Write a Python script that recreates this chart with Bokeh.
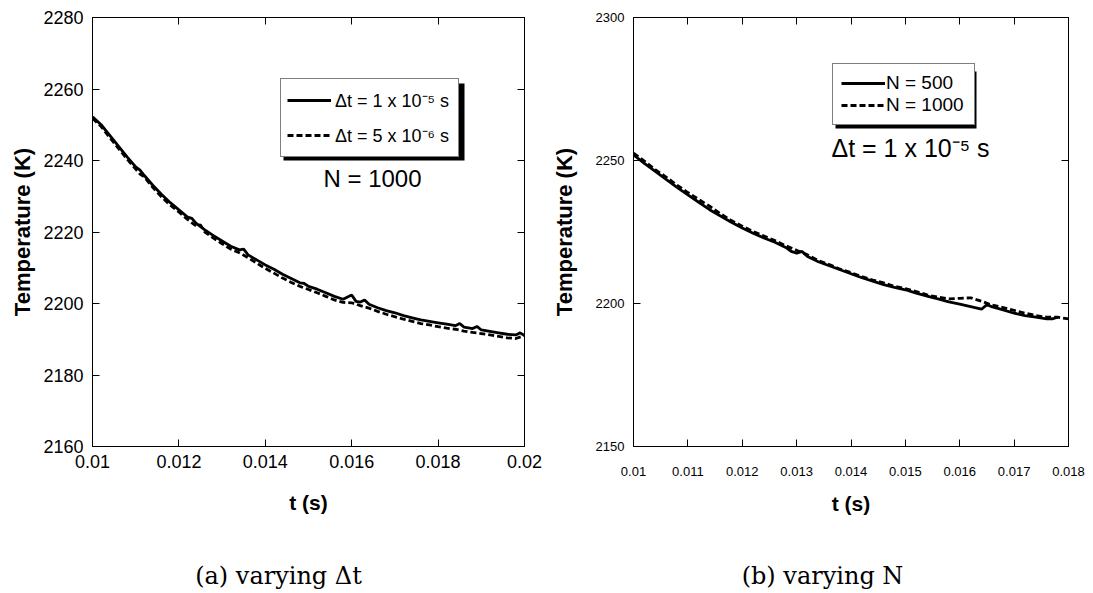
from bokeh.plotting import figure
from bokeh.models import (Range1d, LinearAxis, FixedTicker, Legend, LegendItem,
                          Label, BoxAnnotation)
from bokeh.layouts import row, column
from bokeh.embed import file_html
from bokeh.resources import INLINE

# ---------------- data: panel (a) varying dt, N = 1000 ----------------
t_a_dt1 = [0.0100, 0.0102, 0.0104, 0.0106, 0.0108, 0.0110, 0.0111, 0.0112, 0.0114, 0.0116,
           0.0118, 0.0120, 0.0122, 0.0123, 0.0124, 0.0126, 0.0128, 0.0130, 0.0132, 0.0134,
           0.0135, 0.0136, 0.0138, 0.0140, 0.0142, 0.0144, 0.0146, 0.0148, 0.0149, 0.0150,
           0.0152, 0.0154, 0.0156, 0.0158, 0.0160, 0.0161, 0.0162, 0.0163, 0.0164, 0.0166,
           0.0168, 0.0170, 0.0172, 0.0174, 0.0176, 0.0178, 0.0180, 0.0182, 0.0184, 0.0185,
           0.0186, 0.0188, 0.0189, 0.0190, 0.0192, 0.0194, 0.0196, 0.0198, 0.0199, 0.0200]
T_a_dt1 = [2252.2, 2250.0, 2247.0, 2244.0, 2241.0, 2238.2, 2237.3, 2235.8, 2233.0, 2230.5,
           2228.2, 2226.2, 2224.2, 2223.8, 2222.4, 2220.6, 2219.0, 2217.5, 2216.0, 2215.0,
           2215.2, 2213.6, 2212.2, 2210.8, 2209.6, 2208.2, 2207.0, 2205.8, 2205.6, 2204.8,
           2204.0, 2203.0, 2202.0, 2201.2, 2202.4, 2200.6, 2200.4, 2201.0, 2199.8, 2198.8,
           2198.0, 2197.4, 2196.6, 2196.0, 2195.4, 2195.0, 2194.6, 2194.2, 2193.8, 2194.4,
           2193.4, 2193.0, 2193.6, 2192.6, 2192.2, 2191.8, 2191.4, 2191.2, 2191.8, 2191.0]

t_a_dt2 = [0.0100, 0.0102, 0.0104, 0.0106, 0.0108, 0.0110, 0.0111, 0.0112, 0.0114, 0.0116,
           0.0118, 0.0120, 0.0122, 0.0124, 0.0125, 0.0126, 0.0128, 0.0130, 0.0132, 0.0134,
           0.0136, 0.0138, 0.0140, 0.0142, 0.0144, 0.0146, 0.0148, 0.0150, 0.0152, 0.0154,
           0.0156, 0.0158, 0.0160, 0.0162, 0.0164, 0.0166, 0.0168, 0.0170, 0.0172, 0.0174,
           0.0176, 0.0178, 0.0180, 0.0182, 0.0184, 0.0186, 0.0188, 0.0190, 0.0192, 0.0194,
           0.0196, 0.0198, 0.0200]
T_a_dt2 = [2251.8, 2249.5, 2246.4, 2243.4, 2240.4, 2237.6, 2236.2, 2235.4, 2232.4, 2229.8,
           2227.5, 2225.6, 2223.5, 2221.7, 2222.0, 2220.0, 2218.3, 2216.7, 2215.2, 2214.2,
           2212.8, 2211.3, 2209.8, 2208.5, 2207.1, 2205.9, 2204.8, 2203.9, 2203.0, 2202.0,
           2201.0, 2200.3, 2200.2, 2199.4, 2198.7, 2197.8, 2197.0, 2196.3, 2195.6, 2195.0,
           2194.4, 2194.0, 2193.5, 2193.1, 2192.8, 2192.3, 2191.9, 2191.6, 2191.2, 2190.8,
           2190.4, 2190.2, 2191.0]

# ---------------- data: panel (b) varying N, dt = 1e-5 s ----------------
t_b_n500 = [0.0100, 0.0102, 0.0104, 0.0106, 0.0108, 0.0110, 0.0112, 0.0114, 0.0116, 0.0118,
            0.0120, 0.0122, 0.0124, 0.0126, 0.0128, 0.0129, 0.0130, 0.0131, 0.0132, 0.0134,
            0.0136, 0.0138, 0.0140, 0.0142, 0.0144, 0.0146, 0.0148, 0.0150, 0.0152, 0.0154,
            0.0156, 0.0158, 0.0160, 0.0162, 0.0164, 0.0165, 0.0166, 0.0168, 0.0170, 0.0172,
            0.0174, 0.0176, 0.0177, 0.0178]
T_b_n500 = [2252.0, 2249.0, 2246.2, 2243.4, 2240.6, 2238.0, 2235.4, 2232.8, 2230.6, 2228.4,
            2226.4, 2224.6, 2222.9, 2221.4, 2219.6, 2218.2, 2217.6, 2218.2, 2216.4, 2214.6,
            2213.2, 2211.8, 2210.4, 2209.0, 2207.8, 2206.6, 2205.6, 2204.8, 2203.6, 2202.6,
            2201.6, 2200.6, 2199.8, 2198.9, 2198.0, 2199.6, 2198.8, 2197.8, 2196.6, 2195.8,
            2195.2, 2194.6, 2194.6, 2195.2]

t_b_n1000 = [0.0100, 0.0102, 0.0104, 0.0106, 0.0108, 0.0110, 0.0112, 0.0114, 0.0116, 0.0118,
             0.0120, 0.0122, 0.0124, 0.0126, 0.0128, 0.0130, 0.0132, 0.0134, 0.0136, 0.0138,
             0.0140, 0.0142, 0.0144, 0.0146, 0.0148, 0.0150, 0.0152, 0.0154, 0.0156, 0.0158,
             0.0160, 0.0162, 0.0164, 0.0166, 0.0168, 0.0170, 0.0172, 0.0174, 0.0176, 0.0178,
             0.0180]
T_b_n1000 = [2252.6, 2249.8, 2246.8, 2244.2, 2241.4, 2238.8, 2236.4, 2234.0, 2231.4, 2229.0,
             2227.0, 2225.2, 2223.6, 2222.0, 2220.2, 2218.6, 2217.0, 2215.0, 2213.6, 2212.0,
             2210.8, 2209.4, 2208.2, 2207.2, 2206.0, 2205.2, 2204.2, 2203.0, 2202.2, 2201.6,
             2201.8, 2202.0, 2200.8, 2199.4, 2198.6, 2197.6, 2196.6, 2195.8, 2195.2, 2195.2,
             2194.6]

# ---------------- ticks & labels ----------------
xticks_a = [0.010, 0.012, 0.014, 0.016, 0.018, 0.020]
xlabels_a = ["0.01", "0.012", "0.014", "0.016", "0.018", "0.02"]
yticks_a = [2160, 2180, 2200, 2220, 2240, 2260, 2280]

xticks_b = [0.010, 0.011, 0.012, 0.013, 0.014, 0.015, 0.016, 0.017, 0.018]
xlabels_b = ["0.01", "0.011", "0.012", "0.013", "0.014", "0.015", "0.016", "0.017", "0.018"]
yticks_b = [2150, 2200, 2250, 2300]

legend_a = ["\u0394t = 1 x 10\u207b\u2075 s", "\u0394t = 5 x 10\u207b\u2076 s"]
legend_b = ["N = 500", "N = 1000"]
note_a = "N = 1000"
note_b = "\u0394t = 1 x 10\u207b\u2075 s"
caption_a = "(a) varying \u0394t"
caption_b = "(b) varying N"

SANS = "Liberation Sans"
SERIF = "DejaVu Serif"
MAIN_H = 540
CAP_H = 53


def panel(width, bl, br, bt, bb, xr, yr, xticks, xlabels, yticks, tick_size,
          x_standoff, xlab_standoff, ylab_standoff):
    p = figure(width=width, height=MAIN_H, output_backend="svg", toolbar_location=None,
               x_range=Range1d(*xr), y_range=Range1d(*yr),
               min_border_left=bl, min_border_right=br, min_border_top=bt,
               min_border_bottom=bb)
    p.xgrid.visible = False
    p.ygrid.visible = False
    p.outline_line_color = "black"
    p.outline_line_width = 1
    p.background_fill_color = "white"
    p.border_fill_color = "white"
    p.add_layout(LinearAxis(), "above")
    p.add_layout(LinearAxis(), "right")
    for ax in p.xaxis:
        ax.ticker = FixedTicker(ticks=xticks)
        ax.major_label_overrides = {t: l for t, l in zip(xticks, xlabels)}
    for ax in p.yaxis:
        ax.ticker = FixedTicker(ticks=yticks)
    for ax in list(p.xaxis) + list(p.yaxis):
        ax.major_tick_in = 7
        ax.major_tick_out = 0
        ax.minor_tick_line_color = None
        ax.axis_line_color = "black"
        ax.major_tick_line_color = "black"
        ax.major_label_text_font = SANS
        ax.major_label_text_font_size = tick_size
        ax.major_label_text_color = "black"
        ax.axis_label_text_font = SANS
        ax.axis_label_text_font_style = "bold"
        ax.axis_label_text_color = "black"
    # frame-only axes (top/right): ticks without labels
    p.above[0].major_label_overrides = {t: "" for t in xticks}
    p.right[0].major_label_overrides = {t: "" for t in yticks}
    p.above[0].major_label_standoff = 0
    p.right[0].major_label_standoff = 0
    p.below[0].axis_label = "t (s)"
    p.below[0].axis_label_text_font_size = "21px"
    p.below[0].major_label_standoff = x_standoff
    p.below[0].axis_label_standoff = xlab_standoff
    p.left[0].axis_label = "Temperature (K)"
    p.left[0].axis_label_text_font_size = "22px"
    p.left[0].major_label_standoff = 9
    p.left[0].axis_label_standoff = ylab_standoff
    return p


def caption(width, text, cx):
    c = figure(width=width, height=CAP_H, output_backend="svg", toolbar_location=None,
               x_range=Range1d(0, width), y_range=Range1d(0, CAP_H), min_border=0,
               x_axis_location=None, y_axis_location=None)
    c.grid.visible = False
    c.outline_line_color = None
    c.add_layout(Label(x=cx, y=18, text=text, text_font=SERIF, text_font_size="24px",
                       text_align="center", text_baseline="middle", text_color="black"))
    return c


# ---------------- panel (a) ----------------
pa = panel(546, 92, 22, 17, MAIN_H - 449, (0.01, 0.02), (2160, 2280), xticks_a,
           xlabels_a, yticks_a, "18px", 8, 20, 5)
ra1 = pa.line(t_a_dt1, T_a_dt1, line_color="black", line_width=2.8)
ra2 = pa.line(t_a_dt2, T_a_dt2, line_color="black", line_width=2.8, line_dash="6 3")
pa.add_layout(BoxAnnotation(left=191, right=372, bottom=286, top=363,
                            left_units="screen", right_units="screen",
                            bottom_units="screen", top_units="screen",
                            fill_color="black", fill_alpha=1, line_color=None))
leg_a = Legend(items=[LegendItem(label=legend_a[0], renderers=[ra1]),
                      LegendItem(label=legend_a[1], renderers=[ra2])],
               location=(188, 289), glyph_width=44, glyph_height=30, label_height=30,
               label_width=117, label_standoff=4, padding=6, spacing=5, margin=0,
               border_line_color="black", border_line_width=1.5,
               background_fill_color="white", background_fill_alpha=1,
               label_text_font=SANS, label_text_font_size="18px",
               label_text_color="black")
pa.add_layout(leg_a)
pa.add_layout(Label(x=280, y=268, x_units="screen", y_units="screen", text=note_a,
                    text_font=SANS, text_font_size="24px", text_align="center",
                    text_baseline="middle", text_color="black"))

# ---------------- panel (b) ----------------
pb = panel(547, 87, 25, 12, MAIN_H - 446, (0.01, 0.018), (2150, 2300), xticks_b,
           xlabels_b, yticks_b, "13px", 20, 13, 16)
rb1 = pb.line(t_b_n500, T_b_n500, line_color="black", line_width=2.8)
rb2 = pb.line(t_b_n1000, T_b_n1000, line_color="black", line_width=2.8, line_dash="6 3")
pb.add_layout(BoxAnnotation(left=202, right=343, bottom=318, top=375,
                            left_units="screen", right_units="screen",
                            bottom_units="screen", top_units="screen",
                            fill_color="black", fill_alpha=1, line_color=None))
leg_b = Legend(items=[LegendItem(label=legend_b[0], renderers=[rb1]),
                      LegendItem(label=legend_b[1], renderers=[rb2])],
               location=(199, 321), glyph_width=44, glyph_height=20, label_height=20,
               label_width=80, label_standoff=1, padding=8, spacing=0, margin=0,
               border_line_color="black", border_line_width=1.5,
               background_fill_color="white", background_fill_alpha=1,
               label_text_font=SANS, label_text_font_size="19px",
               label_text_color="black")
pb.add_layout(leg_b)
pb.add_layout(Label(x=277, y=299, x_units="screen", y_units="screen", text=note_b,
                    text_font=SANS, text_font_size="25px", text_align="center",
                    text_baseline="middle", text_color="black"))

ca = caption(546, caption_a, 278)
cb = caption(547, caption_b, 822 - 546)

layout = column(row(pa, pb, spacing=0), row(ca, cb, spacing=0), spacing=0)
open("out.html", "w").write(file_html(layout, INLINE))
